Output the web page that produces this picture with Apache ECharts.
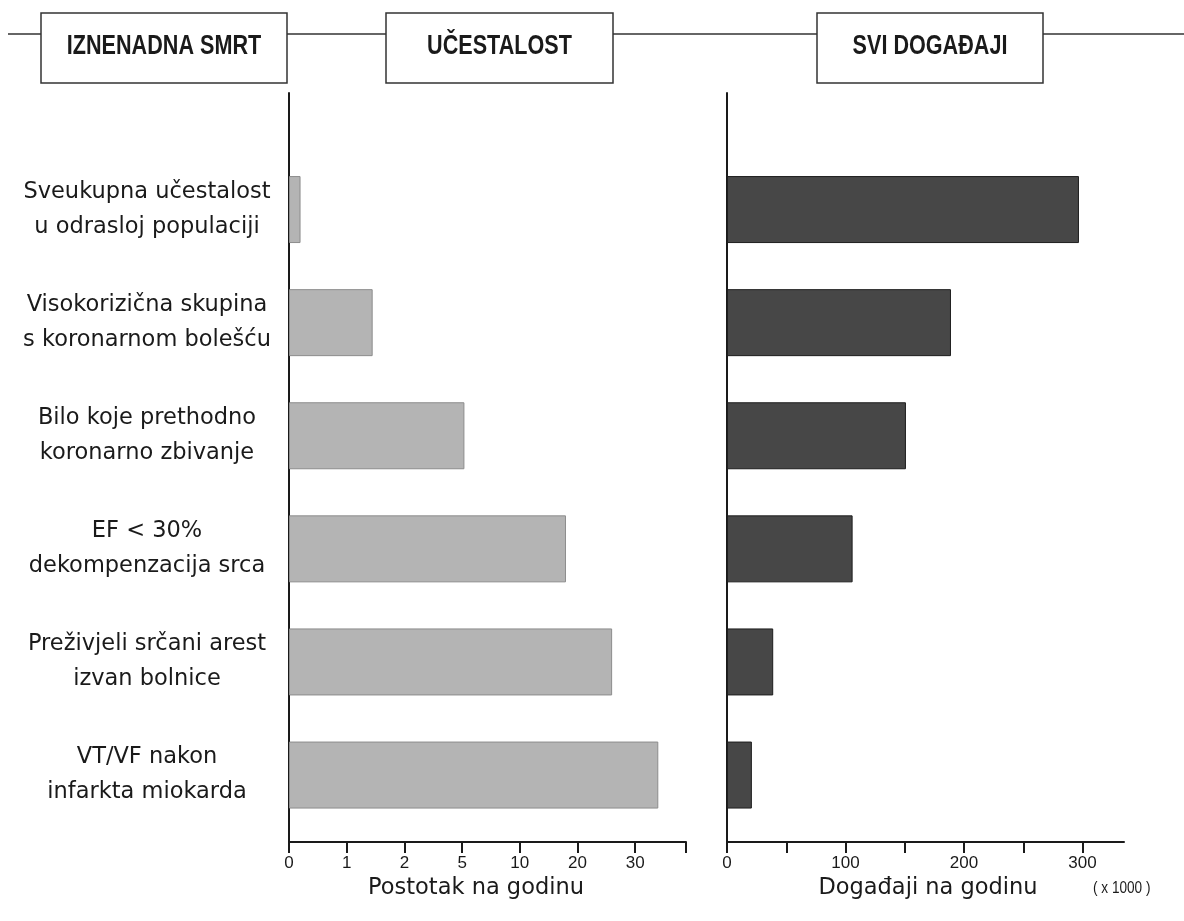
<!DOCTYPE html>
<html>
<head>
<meta charset="utf-8">
<script src="https://cdn.jsdelivr.net/npm/echarts@6/dist/echarts.min.js"></script>
<style>
html,body{margin:0;padding:0;background:#fff;}
#chart{width:1184px;height:921px;}
</style>
</head>
<body>
<div id="chart"></div>
<script>
// ---- data ----
const categories = [
  'Sveukupna učestalost\nu odrasloj populaciji',
  'Visokorizična skupina\ns koronarnom bolešću',
  'Bilo koje prethodno\nkoronarno zbivanje',
  'EF < 30%\ndekompenzacija srca',
  'Preživjeli srčani arest\nizvan bolnice',
  'VT/VF nakon\ninfarkta miokarda'
];
const incidencePercent = [0.2, 1.45, 5.2, 18, 26, 34];      // % per year
const eventsThousands = [297, 189, 151, 106, 39, 21];        // events per year (x1000)
const percentTicks = [0, 1, 2, 5, 10, 20, 30];
const eventTicks = [0, 50, 100, 150, 200, 250, 300];
const eventLabelTicks = [0, 100, 200, 300];
const titles = ['IZNENADNA SMRT', 'UČESTALOST', 'SVI DOGAĐAJI'];
const leftAxisName = 'Postotak na godinu';
const rightAxisName = 'Događaji na godinu';
const unitNote = '( x 1000 )';

// piecewise axis: ticks equally spaced (index positions)
function pctToPos(v) {
  for (let i = 0; i < percentTicks.length - 1; i++) {
    const a = percentTicks[i], b = percentTicks[i + 1];
    if (v <= b) return i + (v - a) / (b - a);
  }
  const n = percentTicks.length - 1;
  return n + (v - percentTicks[n]) / 10;
}
const leftMax = 6.88;
const rightMax = 335;

const CAT_FONT = 'DejaVu Sans';
const NARROW = "'Liberation Sans Narrow', 'Arial Narrow', 'Liberation Sans', sans-serif";

const gridBars = { top: 153, height: 678.6 };
const gridFrame = { top: 93, height: 749 };
const L = { left: 289, width: 397 };
const R = { left: 727, width: 397 };

const chart = echarts.init(document.getElementById('chart'), null, { renderer: 'canvas' });

const hiddenValueAxis = (gi, max) => ({ type: 'value', gridIndex: gi, min: 0, max: max, show: false });
const frameXAxis = (gi, max, tickVals, labelVals, fmt, name, namePad) => ({
  type: 'value', gridIndex: gi, min: 0, max: max,
  axisLine: { show: true, onZero: false, lineStyle: { color: '#1a1a1a', width: 2 } },
  axisTick: { show: true, length: 11, customValues: tickVals, lineStyle: { color: '#1a1a1a', width: 2 } },
  axisLabel: { show: true, customValues: labelVals, formatter: fmt, margin: 13,
               fontFamily: NARROW, fontSize: 17, color: '#1a1a1a' },
  splitLine: { show: false },
  name: name, nameLocation: 'middle', nameGap: 29,
  nameTextStyle: { fontFamily: CAT_FONT, fontSize: 22.5, color: '#1a1a1a', padding: namePad }
});
const frameYAxis = (gi) => ({
  type: 'value', gridIndex: gi, min: 0, max: 1,
  axisLine: { show: true, onZero: false, lineStyle: { color: '#1a1a1a', width: 2 } },
  axisTick: { show: false }, axisLabel: { show: false }, splitLine: { show: false }
});

const leftTickVals = percentTicks.map((_, i) => i).concat([leftMax]);
const leftLabelVals = percentTicks.map((_, i) => i);

const boxes = [
  { x: 41, w: 246 }, { x: 386, w: 227 }, { x: 817, w: 226 }
];
const graphic = [
  { type: 'line', shape: { x1: 8, y1: 34, x2: 1184, y2: 34 }, style: { stroke: '#333', lineWidth: 1.5 }, z: 1 }
];
boxes.forEach((b, i) => {
  graphic.push({ type: 'rect', shape: { x: b.x, y: 13, width: b.w, height: 70 },
    style: { fill: '#fff', stroke: '#333', lineWidth: 1.5 }, z: 2 });
  graphic.push({ type: 'text', x: b.x + b.w / 2, y: 47, z: 3, scaleX: 0.8,
    style: { text: titles[i], fill: '#1a1a1a', font: "bold 27px " + NARROW, align: 'center', verticalAlign: 'middle' } });
});
graphic.push({ type: 'text', x: 1093, y: 881, z: 3, scaleX: 0.85,
  style: { text: unitNote, fill: '#1a1a1a', font: "16px " + NARROW, align: 'left', verticalAlign: 'top' } });

chart.setOption({
  animation: false,
  backgroundColor: '#fff',
  grid: [
    { left: L.left, width: L.width, top: gridBars.top, height: gridBars.height },
    { left: L.left, width: L.width, top: gridFrame.top, height: gridFrame.height },
    { left: R.left, width: R.width, top: gridBars.top, height: gridBars.height },
    { left: R.left, width: R.width, top: gridFrame.top, height: gridFrame.height }
  ],
  xAxis: [
    hiddenValueAxis(0, leftMax),
    frameXAxis(1, leftMax, leftTickVals, leftLabelVals,
      v => { const i = Math.round(v); return (Math.abs(v - i) < 1e-6 && i < percentTicks.length) ? String(percentTicks[i]) : ''; },
      leftAxisName, [0, 23, 0, 0]),
    hiddenValueAxis(2, rightMax),
    frameXAxis(3, rightMax, eventTicks, eventLabelTicks, v => String(v), rightAxisName, [0, 0, 0, 5])
  ],
  yAxis: [
    { type: 'category', gridIndex: 0, data: categories, inverse: true,
      axisLine: { show: false }, axisTick: { show: false }, splitLine: { show: false },
      axisLabel: { show: true, align: 'center', margin: 142, fontFamily: CAT_FONT, fontSize: 22.5,
                   lineHeight: 35, color: '#1a1a1a' } },
    frameYAxis(1),
    { type: 'category', gridIndex: 2, data: categories, inverse: true, show: false },
    frameYAxis(3)
  ],
  series: [
    { type: 'bar', xAxisIndex: 0, yAxisIndex: 0, barWidth: 67, silent: true,
      data: incidencePercent.map(pctToPos),
      itemStyle: { color: '#b4b4b4', borderColor: '#8c8c8c', borderWidth: 1 } },
    { type: 'bar', xAxisIndex: 2, yAxisIndex: 2, barWidth: 67, silent: true,
      data: eventsThousands,
      itemStyle: { color: '#474747', borderColor: '#1e1e1e', borderWidth: 1 } }
  ],
  graphic: graphic
});
</script>
</body>
</html>
